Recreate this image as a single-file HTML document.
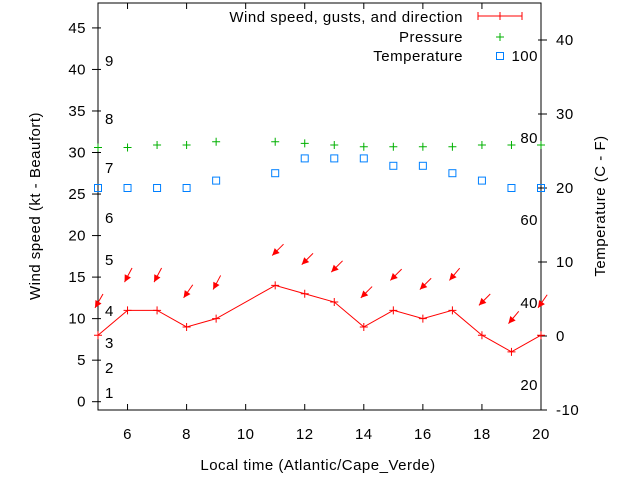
<!DOCTYPE html>
<html><head><meta charset="utf-8"><style>
body{margin:0;background:#fff}
svg{display:block;font-family:"Liberation Sans",sans-serif;font-size:15px;letter-spacing:0.5px}
</style></head><body>
<svg id="c" width="640" height="480" viewBox="0 0 640 480"></svg>
<script>
const hours=[5,6,7,8,9,11,12,13,14,15,16,17,18,19,20];
const wind=[8,11,11,9,10,14,13,12,9,11,10,11,8,6,8];
const gustTip=[11.3,14.4,14.4,12.5,13.5,17.6,16.5,15.6,12.5,14.6,13.5,14.6,11.6,9.4,11.3];
const dirAngle=[60,62,62,55,62,45,45,45,45,45,45,50,45,50,55];
const pressure=[30.6,30.6,30.9,30.9,31.3,31.3,31.1,30.9,30.7,30.7,30.7,30.7,30.9,30.9,30.9];
const temp=[20,20,20,20,21,22,24,24,24,23,23,22,21,20,20];
const xTicks=[6,8,10,12,14,16,18,20];
const yTicks=[0,5,10,15,20,25,30,35,40,45];
const y2Ticks=[-10,0,10,20,30,40];
const beaufort=[["1",393],["2",368],["3",343],["4",311],["5",260],["6",218],["7",168],["8",119],["9",61]];
const fahr=[["20",385],["40",303],["60",220],["80",138],["100",56]];
const L=98,R=541,T=3,B=410;
const X=v=>L+(v-5)/15*(R-L);
const Y=v=>B-(v+1)/49*(B-T);
const Y2=v=>B-(v+10)/55*(B-T);
const s=document.getElementById('c');const NS='http://www.w3.org/2000/svg';
function el(t,a,txt){const e=document.createElementNS(NS,t);for(const k in a)e.setAttribute(k,a[k]);if(txt!=null)e.textContent=txt;s.appendChild(e);return e;}
let e;
e=el('rect',{x:L,y:T,width:R-L,height:B-T,fill:'none',stroke:'#000'});


xTicks.forEach(v=>{el('line',{x1:X(v),x2:X(v),y1:B,y2:B-6,stroke:'#000'});el('line',{x1:X(v),x2:X(v),y1:T,y2:T+6,stroke:'#000'});
e=el('text',{x:X(v),y:B+29,'text-anchor':'middle'},v);

});
yTicks.forEach(v=>{el('line',{x1:L-6,x2:L+3,y1:Y(v),y2:Y(v),stroke:'#000'});
e=el('text',{x:L-12,y:Y(v)+5,'text-anchor':'end'},v);

});
y2Ticks.forEach(v=>{el('line',{x1:R-3,x2:R+6,y1:Y2(v),y2:Y2(v),stroke:'#000'});
e=el('text',{x:R+15,y:Y2(v)+5},v);

});
beaufort.forEach(b=>{e=el('text',{x:105,y:b[1]+5},b[0]);

});
fahr.forEach(f=>{e=el('text',{x:538,y:f[1]+5,'text-anchor':'end'},f[0]);

});
e=el('text',{x:318,y:470,'text-anchor':'middle'},'Local time (Atlantic/Cape_Verde)');


e=el('text',{x:0,y:0,'text-anchor':'middle',transform:'translate(40,206) rotate(-90)'},'Wind speed (kt - Beaufort)');


e=el('text',{x:0,y:0,'text-anchor':'middle',transform:'translate(605,206) rotate(-90)'},'Temperature (C - F)');


e=el('polyline',{points:hours.map((h,i)=>X(h)+','+Y(wind[i])).join(' '),fill:'none',stroke:'#f00','stroke-width':1});


hours.forEach((h,i)=>{const x=X(h),y=Y(wind[i]);
e=el('path',{d:`M${x-4} ${y}H${x+4}M${x} ${y-4}V${y+4}`,stroke:'#f00'});


const tx=X(h)-3,ty=Y(gustTip[i]),a=dirAngle[i]*Math.PI/180,len=16;
const sx=tx+len*Math.cos(a),sy=ty-len*Math.sin(a);
const ux=Math.cos(a),uy=-Math.sin(a),hx=tx+7*ux,hy=ty+7*uy,px=-uy*3.5,py=ux*3.5;
const g=el('g',{});


g.appendChild(el('line',{x1:sx,y1:sy,x2:tx,y2:ty,stroke:'#f00'}));
g.appendChild(el('polygon',{points:`${tx},${ty} ${hx+px},${hy+py} ${hx-px},${hy-py}`,fill:'#f00'}));
e=el('path',{d:`M${X(h)-4} ${Y(pressure[i])}h8M${X(h)} ${Y(pressure[i])-4}v8`,stroke:'#00b000'});


e=el('rect',{x:X(h)-3.5,y:Y2(temp[i])-3.5,width:7,height:7,fill:'none',stroke:'#0080ff'});


});
e=el('text',{x:463,y:22,'text-anchor':'end'},'Wind speed, gusts, and direction');


el('path',{d:'M478 16H522M478 12v8M522 12v8M500 12v8',stroke:'#f00'});
e=el('text',{x:463,y:42,'text-anchor':'end'},'Pressure');


el('path',{d:'M496 37h8M500 33v8',stroke:'#00b000'});
e=el('text',{x:463,y:61,'text-anchor':'end'},'Temperature');


el('rect',{x:496.5,y:52.5,width:7,height:7,fill:'none',stroke:'#0080ff'});
</script>
</body></html>
